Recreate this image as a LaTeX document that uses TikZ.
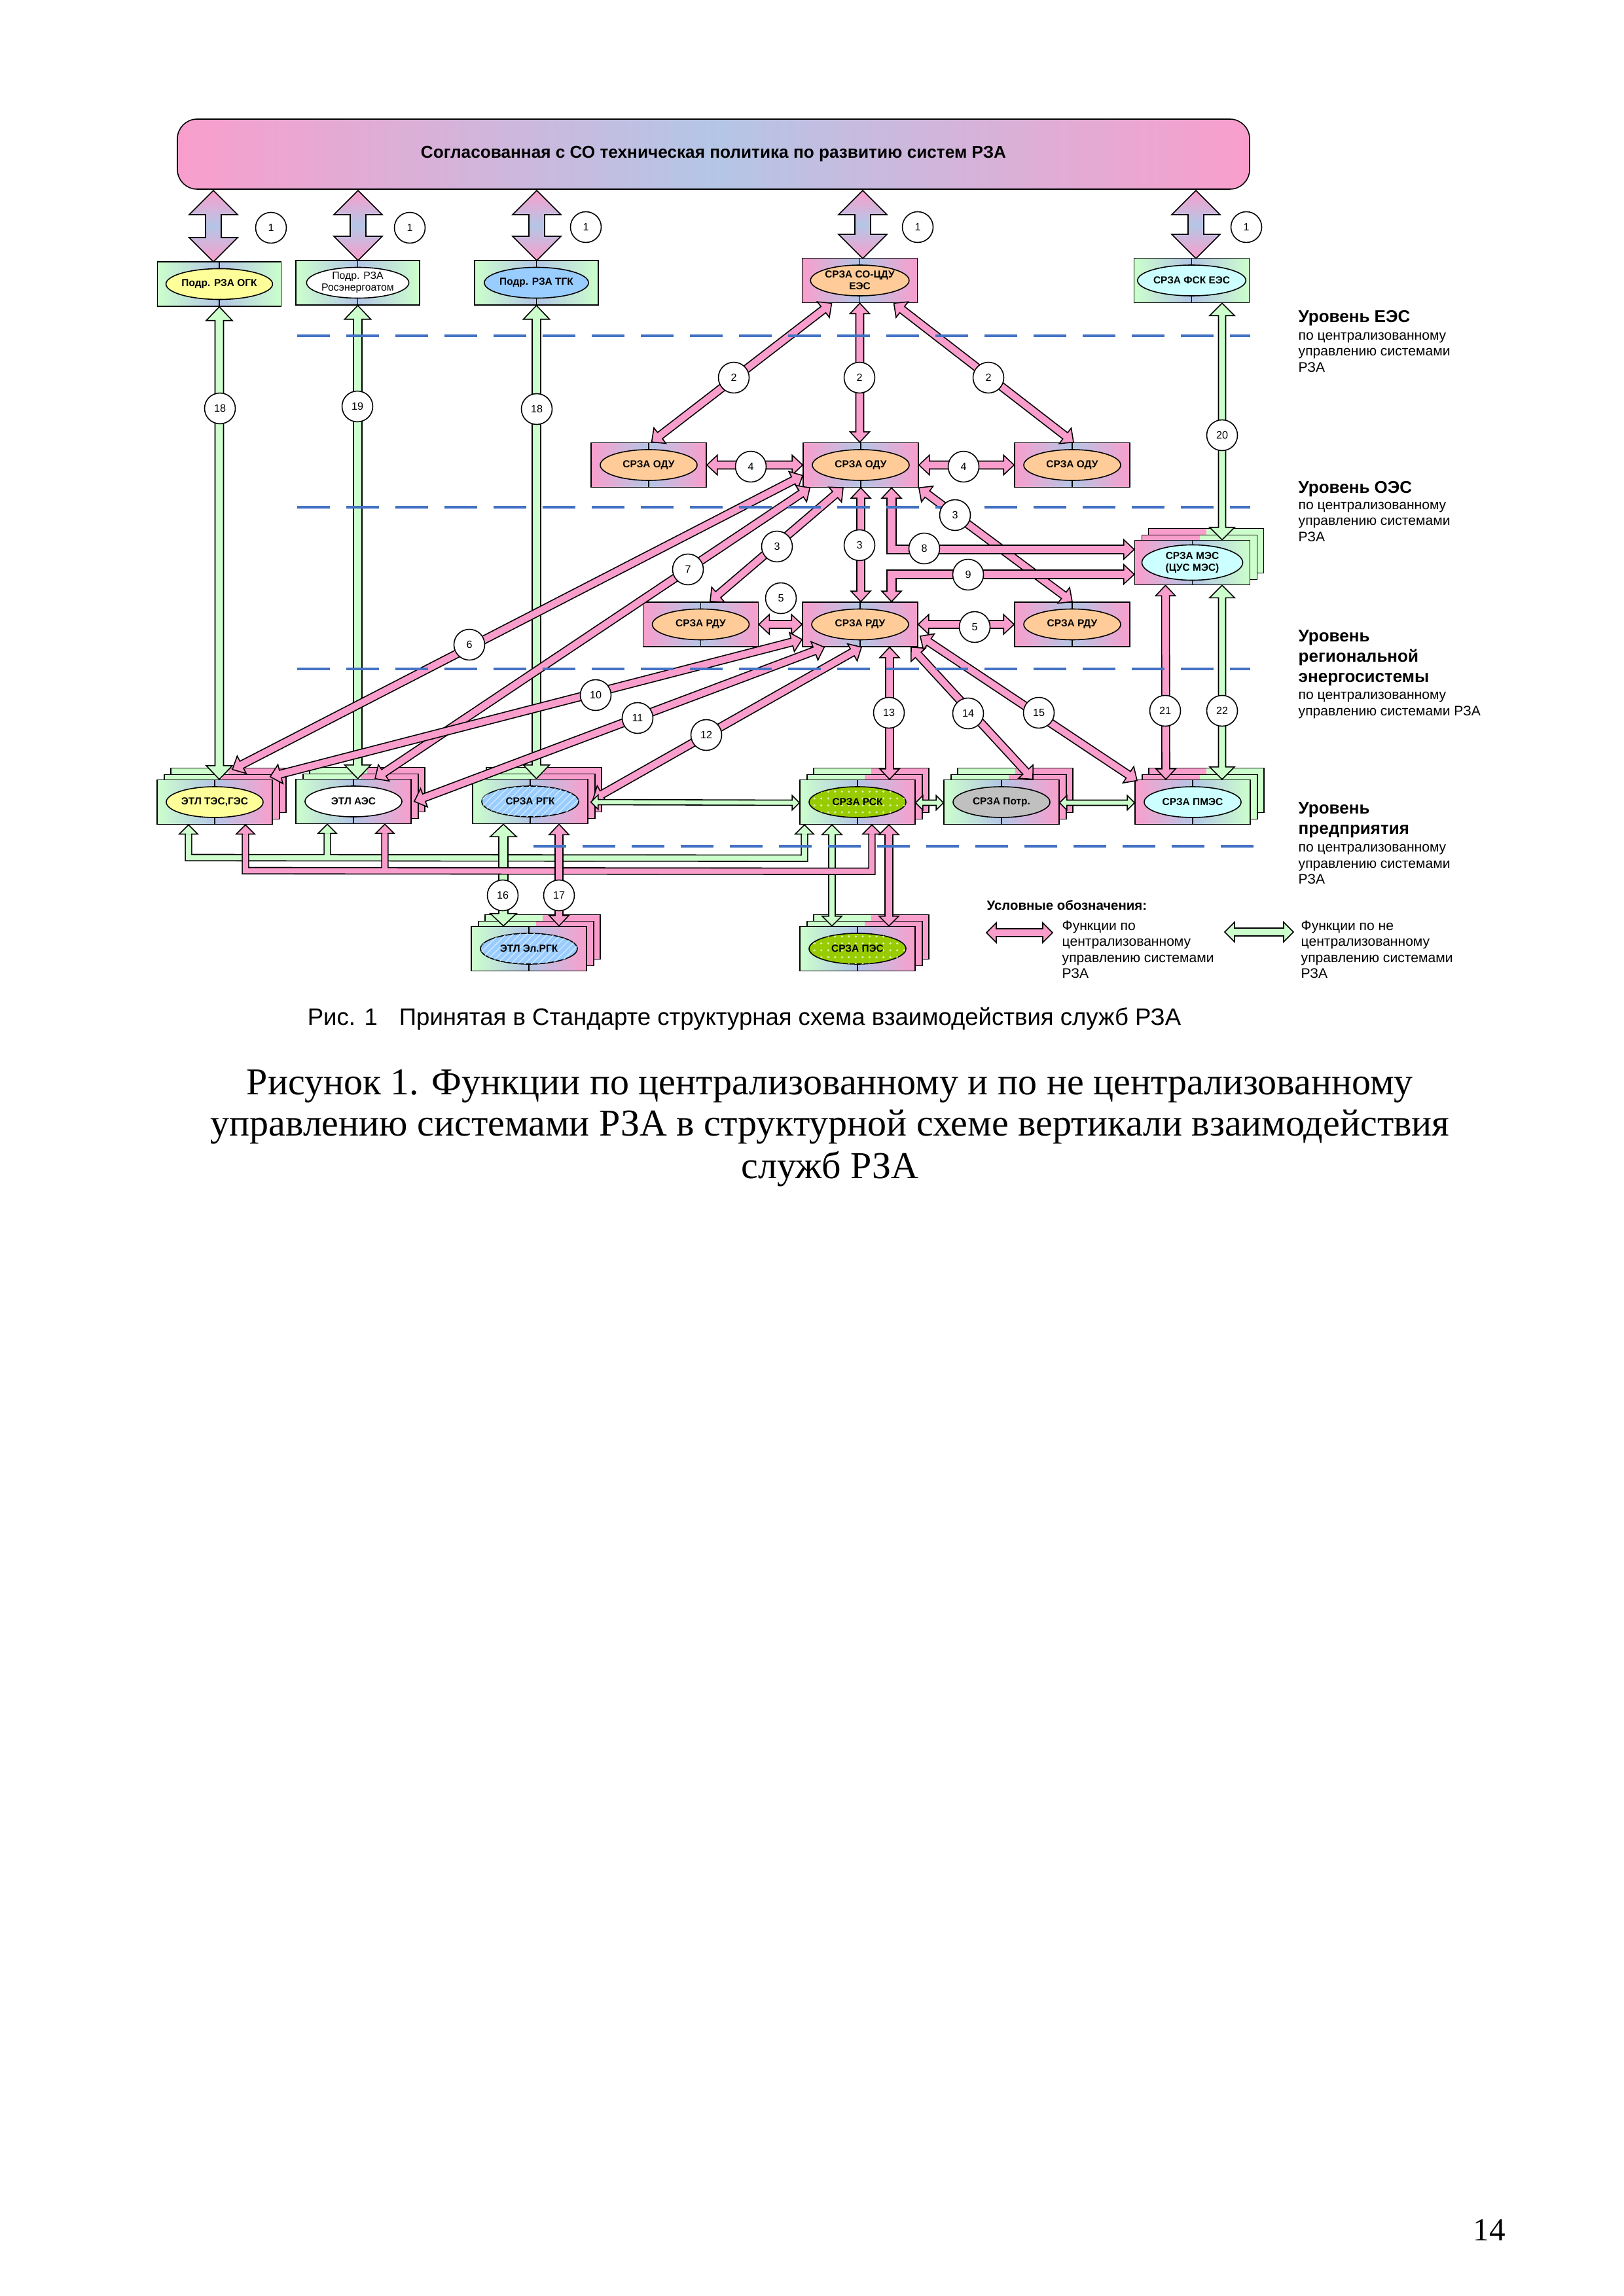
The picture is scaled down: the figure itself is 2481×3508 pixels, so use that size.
\documentclass[tikz,border=0pt]{standalone}
\usepackage{fontspec}
\setmainfont{Liberation Serif}
\newfontfamily\arialf{Liberation Sans}
\usetikzlibrary{calc,shapes.geometric,patterns}
\definecolor{pk}{RGB}{249,158,204}
\definecolor{bl}{RGB}{180,198,230}
\definecolor{gr}{RGB}{204,255,204}
\definecolor{org}{RGB}{255,204,153}
\definecolor{yel}{RGB}{255,255,153}
\definecolor{sky}{RGB}{153,204,255}
\definecolor{cyn}{RGB}{204,255,255}
\definecolor{lime}{RGB}{153,204,0}
\definecolor{gry}{RGB}{192,192,192}
\definecolor{dsh}{RGB}{68,114,196}
\newcommand\fLbl{\arialf\bfseries\fontsize{4.4}{5.1}\selectfont}
\newcommand\fLblr{\arialf\fontsize{4.5}{5.1}\selectfont}
\newcommand\fNum{\arialf\fontsize{4.6}{5}\selectfont}
\newcommand\fLevT{\arialf\bfseries\fontsize{7.4}{9}\selectfont}
\newcommand\fLevS{\arialf\fontsize{6}{7}\selectfont}
\newcommand\fBan{\arialf\bfseries\fontsize{7.45}{8.5}\selectfont}
\newcommand\fLeg{\arialf\bfseries\fontsize{5.8}{7}\selectfont}
\newcommand\fRis{\arialf\fontsize{10.4}{12}\selectfont}
\newcommand\fCap{\fontsize{16.5}{18.8}\selectfont}
\newcommand\fPg{\fontsize{14}{16}\selectfont}
\newcommand\getang{%
  \pgfpointdiff{\pgfpointanchor{tA}{center}}{\pgfpointanchor{tB}{center}}%
  \pgfgetlastxy{\ddx}{\ddy}%
  \pgfmathsetmacro\aang{atan2(\ddy,\ddx)}%
  \pgfmathsetmacro\alen{veclen(\ddx,\ddy)/0.284528}}
% double-headed block arrow: style, from, to, half shaft, half head, head length
\newcommand\BA[6]{%
  \path #2 coordinate (tA) #3 coordinate (tB);%
  \getang
  \begin{scope}[shift={(tA)},rotate=\aang]
  \filldraw[#1] (0,0) -- (#6,#5) -- (#6,#4) -- ({\alen-#6},#4) -- ({\alen-#6},#5) -- (\alen,0) -- ({\alen-#6},-#5) -- ({\alen-#6},-#4) -- (#6,-#4) -- (#6,-#5) -- cycle;
  \end{scope}}
% arrow head: fill colour, tip, back point, half shaft, half head, head length
\newcommand\HD[6]{%
  \path #3 coordinate (tA) #2 coordinate (tB);%
  \getang
  \begin{scope}[shift={(tB)},rotate=\aang]
  \fill[#1] (-#6,#4) -- (-#6,#5) -- (0,0) -- (-#6,-#5) -- (-#6,-#4) -- cycle;
  \draw[line width=0.45pt,line join=miter] (-#6,#4) -- (-#6,#5) -- (0,0) -- (-#6,-#5) -- (-#6,-#4);
  \end{scope}}
% stroked shaft: colour, inner width, outer width, path
\newcommand\LS[4]{%
  \draw[line width=#3,line cap=butt,line join=miter] #4;
  \draw[#1,line width=#2,line cap=butt,line join=miter] #4;}
\newcommand\OneArr[3]{\filldraw[top color=pk,bottom color=pk,middle color=bl,draw=black,line width=0.45pt,line join=miter] (#1,#2) -- (#1+37,#2+37) -- (#1+12,#2+37) -- (#1+12,#3-37) -- (#1+37,#3-37) -- (#1,#3) -- (#1-37,#3-37) -- (#1-12,#3-37) -- (#1-12,#2+37) -- (#1-37,#2+37) -- cycle;}
\newcommand\stk[4]{%
 \foreach \ox/\oy in {21/-18,11/-8}{%
  \fill[#3] (#1+\ox-88,#2+\oy-34) rectangle (#1+\ox,#2+\oy+34);
  \fill[#4] (#1+\ox,#2+\oy-34) rectangle (#1+\ox+88,#2+\oy+34);
  \draw[line width=0.45pt] (#1+\ox-88,#2+\oy-34) rectangle (#1+\ox+88,#2+\oy+34);}}
\newcommand\unit[6]{%
  \node[ubox,#3] (#1) at (#2) {};
  \draw[line width=0.45pt] (#1.north) -- (#1.south);
  \node[uell,fill=#4,#6] (#1e) at (#1.center) {#5};}
\newcommand\levlines[3]{\foreach \lnx [count=\i from 0] in {#3} \node[font=\fLevS,anchor=base west,inner sep=0pt] at (#1,#2+24.5*\i) {\lnx};}
\newcommand\PA[2]{\BA{pka}{#1}{#2}{6}{15}{16}}
\begin{document}
\begin{tikzpicture}[x=0.1mm,y=-0.1mm,
  pka/.style={fill=pk,draw=black,line width=0.45pt,line join=miter},
  gra/.style={fill=gr,draw=black,line width=0.45pt,line join=miter},
  ubox/.style={draw,line width=0.45pt,minimum width=17.6mm,minimum height=6.8mm,inner sep=0pt},
  tbox/.style={minimum width=18.9mm},
  uell/.style={ellipse,draw,line width=0.45pt,minimum width=14.8mm,minimum height=4.7mm,inner sep=0pt,align=center,font=\fLbl},
  numc/.style={circle,draw,fill=white,line width=0.45pt,minimum size=4.7mm,inner sep=0pt,font=\fNum},
  gbg/.style={left color=gr,right color=gr,middle color=bl},
  pbp/.style={left color=pk,right color=pk,middle color=bl},
  gbp/.style={left color=gr,right color=pk,middle color=bl},
  pbg/.style={left color=pk,right color=gr,middle color=bl},
  dotell/.style={postaction={pattern=dots,pattern color=white!70!lime}},
  hatell/.style={postaction={pattern=north east lines,pattern color=white!55!sky}},
  dashl/.style={draw=dsh,line width=1.15pt,dash pattern=on 5mm off 2.5mm},
  levt/.style={font=\fLevT,anchor=base west,inner sep=0pt}]
\useasboundingbox (0,0) rectangle (2481,3508);
\fill[white] (0,0) rectangle (2481,3508);
% banner
\node[draw,line width=0.45pt,rounded corners=3mm,minimum width=163.8mm,minimum height=10.7mm,pbp,inner sep=0pt,font=\fBan] (ban) at (1090,235.5) {Согласованная с СО техническая политика по развитию систем РЗА};
% units
\unit{ogk}{335,434}{tbox,gbg}{yel}{Подр. РЗА ОГК}{}
\unit{ros}{546.5,432}{tbox,gbg}{white}{Подр. РЗА\\Росэнергоатом}{font=\fLblr}
\unit{tgk}{819.5,432}{tbox,gbg}{sky}{Подр. РЗА ТГК}{}
\unit{cdu}{1313.5,428.5}{pbp}{org}{СРЗА СО-ЦДУ\\ЕЭС}{}
\unit{fsk}{1820.5,428.5}{gbg}{cyn}{СРЗА ФСК ЕЭС}{}
\unit{odu1}{991,710.5}{pbp}{org}{СРЗА ОДУ}{}
\unit{odu2}{1315,710.5}{pbp}{org}{СРЗА ОДУ}{}
\unit{odu3}{1638,710.5}{pbp}{org}{СРЗА ОДУ}{}
\unit{rdu1}{1070.5,954}{pbp}{org}{СРЗА РДУ}{}
\unit{rdu2}{1314,954}{pbp}{org}{СРЗА РДУ}{}
\unit{rdu3}{1638,954}{pbp}{org}{СРЗА РДУ}{}
\stk{1821.5}{859.5}{pk}{gr}
\unit{mes}{1821.5,859.5}{pbg}{cyn}{СРЗА МЭС\\(ЦУС МЭС)}{minimum width=15.4mm,minimum height=5.4mm}
\stk{328}{1225.5}{gr}{pk}
\unit{tes}{328,1225.5}{gbp}{yel}{ЭТЛ ТЭС,ГЭС}{}
\stk{540}{1224.5}{gr}{pk}
\unit{aes}{540,1224.5}{gbp}{white}{ЭТЛ АЭС}{}
\stk{810}{1224.5}{gr}{pk}
\unit{rgk}{810,1224.5}{gbp}{sky}{СРЗА РГК}{hatell}
\stk{1310}{1225.5}{gr}{pk}
\unit{rsk}{1310,1225.5}{gbp}{lime}{СРЗА РСК}{dotell}
\stk{1530}{1225.5}{gr}{pk}
\unit{potr}{1530,1225.5}{gbp}{gry}{СРЗА Потр.}{}
\stk{1822}{1225.5}{pk}{gr}
\unit{pmes}{1822,1225.5}{pbg}{cyn}{СРЗА ПМЭС}{}
\stk{808}{1449.5}{gr}{pk}
\unit{elrgk}{808,1449.5}{gbp}{sky}{ЭТЛ Эл.РГК}{hatell}
\stk{1310}{1449.5}{gr}{pk}
\unit{pes}{1310,1449.5}{gbp}{lime}{СРЗА ПЭС}{dotell}
% arrows 1
\OneArr{326}{291}{400}
\OneArr{547}{291}{398}
\OneArr{820}{291}{398}
\OneArr{1318}{291}{395}
\OneArr{1827}{291}{395}
% big green arrows
\BA{gra}{(ogk.south)}{(ogk.south |- tes.north)}{6.5}{20}{21}
\BA{gra}{(ros.south)}{(ros.south |- aes.north)}{6.5}{20}{21}
\BA{gra}{(tgk.south)}{(tgk.south |- rgk.north)}{6.5}{20}{21}
\BA{gra}{($(fsk.south)+(46.5,0)$)}{($(mes.north)+(45.5,0)$)}{5.5}{19}{19}
\BA{gra}{($(mes.south)+(45.5,0)$)}{($(pmes.north)+(45,0)$)}{5.5}{19}{19}
% pink arrows
\PA{($(cdu.south)+(-43,0)$)}{($(odu1.north)+(4,0)$)}
\PA{(cdu.south)}{(cdu.south |- odu2.north)}
\PA{($(cdu.south)+(52,0)$)}{($(odu3.north)+(2,0)$)}
\PA{(odu1.east)}{(odu2.west)}
\PA{(odu2.east)}{(odu3.west)}
\PA{($(odu2.south)+(-27,0)$)}{($(rdu1.north)+(14,0)$)}
\PA{(odu2.south)}{(odu2.south |- rdu2.north)}
\PA{(odu2.south east)}{(rdu3.north)}
\PA{(rdu1.east)}{(rdu2.west)}
\PA{(rdu2.east)}{(rdu3.west)}
\PA{($(odu2.west)+(0,16)$)}{($(tes.north)+(27,-15)$)}
\PA{($(odu2.south west)+(11,0)$)}{($(aes.north)+(33,0)$)}
\PA{($(rdu2.west)+(0,23)$)}{($(tes.north east)+(-4,-4)$)}
\PA{($(rdu2.south west)+(34,0)$)}{($(aes.east)+(4,0)$)}
\PA{($(rdu2.south)+(2,0)$)}{($(rgk.east)+(7,-3)$)}
\PA{($(rdu2.south)+(45,0)$)}{($(rsk.north)+(49,0)$)}
\PA{($(rdu2.south)+(78,0)$)}{($(potr.north)+(48,0)$)}
\PA{($(rdu2.east)+(3,18)$)}{($(pmes.north west)+(4,2)$)}
\PA{($(mes.south)+(-41,0)$)}{($(pmes.north)+(-41,0)$)}
% 8 and 9
\coordinate (p8a) at ($(odu2.south)+(47,0)$);
\coordinate (p8b) at ($(mes.west)+(0,-20)$);
\coordinate (p8c) at (p8a |- p8b);
\LS{pk}{3.41pt}{4.3pt}{($(p8a)+(0,16)$) -- (p8c) -- ($(p8b)+(-16,0)$)}
\HD{pk}{(p8a)}{(p8c)}{6}{15}{16}
\HD{pk}{(p8b)}{(p8c)}{6}{15}{16}
\coordinate (p9a) at ($(mes.west)+(0,18)$);
\coordinate (p9b) at ($(rdu2.north)+(48,0)$);
\coordinate (p9c) at (p9b |- p9a);
\LS{pk}{3.41pt}{4.3pt}{($(p9a)+(-16,0)$) -- (p9c) -- ($(p9b)+(0,-16)$)}
\HD{pk}{(p9a)}{(p9c)}{6}{15}{16}
\HD{pk}{(p9b)}{(p9c)}{6}{15}{16}
% bottom horizontal green
\BA{gra}{($(rgk.east)+(4,1)$)}{($(rsk.west)+(0,1)$)}{4}{11}{11}
\BA{gra}{($(rsk.east)+(0,1)$)}{($(potr.west)+(0,1)$)}{4}{11}{11}
\BA{gra}{($(potr.east)+(0,1)$)}{($(pmes.west)+(0,1)$)}{4}{11}{11}
% green bus
\LS{gr}{2.3pt}{3.2pt}{($(tes.south)+(-40,14)$) -- ($(tes.south)+(-40,50)$) -- ($(rsk.south)+(-81,51)$) -- ($(rsk.south)+(-81,14)$) ($(aes.south)+(-40,14)$) -- ($(aes.south)+(-40,52)$)}
\HD{gr}{($(tes.south)+(-40,0)$)}{($(tes.south)+(-40,30)$)}{4}{14}{14}
\HD{gr}{($(aes.south)+(-40,0)$)}{($(aes.south)+(-40,30)$)}{4}{14}{14}
\HD{gr}{($(rsk.south)+(-81,0)$)}{($(rsk.south)+(-81,30)$)}{4}{14}{14}
\BA{gra}{($(rgk.south)+(-41,0)$)}{($(elrgk.north)+(-39,0)$)}{7}{20}{19}
\BA{gra}{($(rsk.south)+(-39,0)$)}{($(pes.north)+(-39,0)$)}{5}{15}{15}
% pink bus
\LS{pk}{2.3pt}{3.2pt}{($(tes.south)+(47,14)$) -- ($(tes.south)+(47,70)$) -- ($(rsk.south)+(22,71)$) -- ($(rsk.south)+(22,14)$) ($(aes.south)+(48,14)$) -- ($(aes.south)+(48,72)$)}
\HD{pk}{($(tes.south)+(47,0)$)}{($(tes.south)+(47,30)$)}{4}{14}{14}
\HD{pk}{($(aes.south)+(48,0)$)}{($(aes.south)+(48,30)$)}{4}{14}{14}
\HD{pk}{($(rsk.south)+(22,0)$)}{($(rsk.south)+(22,30)$)}{4}{14}{14}
\BA{pka}{($(rgk.south)+(44,0)$)}{($(elrgk.north)+(46,0)$)}{6}{15}{16}
\BA{pka}{($(rsk.south)+(48,0)$)}{($(pes.north)+(48,0)$)}{6}{15}{15}
% dashed level lines
\draw[dashl] (454,513) -- (1910,513);
\draw[dashl] (454,775) -- (1910,775);
\draw[dashl] (454,1022) -- (1910,1022);
\draw[dashl] (815,1293) -- (1917,1293);
% number circles
\foreach \x/\y [count=\k] in {414/348,626/348,895/347,1402/347,1904/347} \node[numc] (c1\k) at (\x,\y) {1};
\node[numc] at (1121,577) {2};
\node[numc] at (1313,577) {2};
\node[numc] at (1510,577) {2};
\node[numc] at (1147,713) {4};
\node[numc] at (1472,713) {4};
\node[numc] at (1187,835) {3};
\node[numc] at (1313,833) {3};
\node[numc] at (1459,787) {3};
\node[numc] at (1412,838) {8};
\node[numc] at (1479,878) {9};
\node[numc] at (1193,914) {5};
\node[numc] at (1489,958) {5};
\node[numc] at (717,985) {6};
\node[numc] at (1051,870) {7};
\node[numc] at (910,1062) {10};
\node[numc] at (974,1097) {11};
\node[numc] at (1079,1123) {12};
\node[numc] at (1358,1089) {13};
\node[numc] at (1479,1090) {14};
\node[numc] at (1587,1089) {15};
\node[numc] at (1780,1086) {21};
\node[numc] at (1867,1086) {22};
\node[numc] at (1867,665) {20};
\node[numc] at (336,624) {18};
\node[numc] at (820,625) {18};
\node[numc] at (546,621) {19};
\node[numc] at (768,1368) {16};
\node[numc] at (854,1368) {17};
% level texts
\node[levt] at (1983,493) {Уровень ЕЭС};
\levlines{1983}{519.5}{по централизованному, управлению системами, РЗА}
\node[levt] at (1983,754) {Уровень ОЭС};
\levlines{1983}{778.5}{по централизованному, управлению системами, РЗА}
\node[levt] at (1983,980) {Уровень};
\node[levt] at (1983,1011) {региональной};
\node[levt] at (1983,1042) {энергосистемы};
\levlines{1983}{1068.5}{по централизованному, управлению системами РЗА}
\node[levt] at (1983,1243) {Уровень};
\node[levt] at (1983,1274) {предприятия};
\levlines{1983}{1301.5}{по централизованному, управлению системами, РЗА}
% legend
\node[font=\fLeg,anchor=base west,inner sep=0pt] (legt) at (1507,1390) {Условные обозначения:};
\coordinate (lp1) at (1507,1425); \coordinate (lp2) at (1608,1425);
\BA{pka}{(lp1)}{(lp2)}{6}{15}{15}
\coordinate (lg1) at (1871,1424); \coordinate (lg2) at (1976,1424);
\BA{gra}{(lg1)}{(lg2)}{6}{15}{15}
\levlines{1622}{1421}{Функции по, централизованному, управлению системами, РЗА}
\levlines{1987}{1421}{Функции по не, централизованному, управлению системами, РЗА}
% captions
\node[font=\fRis,anchor=base] (ris) at (1137,1566) {Рис. 1\hspace{3.3mm}Принятая в Стандарте структурная схема взаимодействия служб РЗА};
\node[font=\fCap,anchor=base] (cap1) at (1268,1672) {Рисунок 1. Функции по централизованному и по не централизованному};
\node[font=\fCap,anchor=base] (cap2) at (1268,1735) {управлению системами РЗА в структурной схеме вертикали взаимодействия};
\node[font=\fCap,anchor=base] (cap3) at (1268,1800) {служб РЗА};
\node[font=\fPg] (pg) at (2275,3407) {14};
\end{tikzpicture}
\end{document}
